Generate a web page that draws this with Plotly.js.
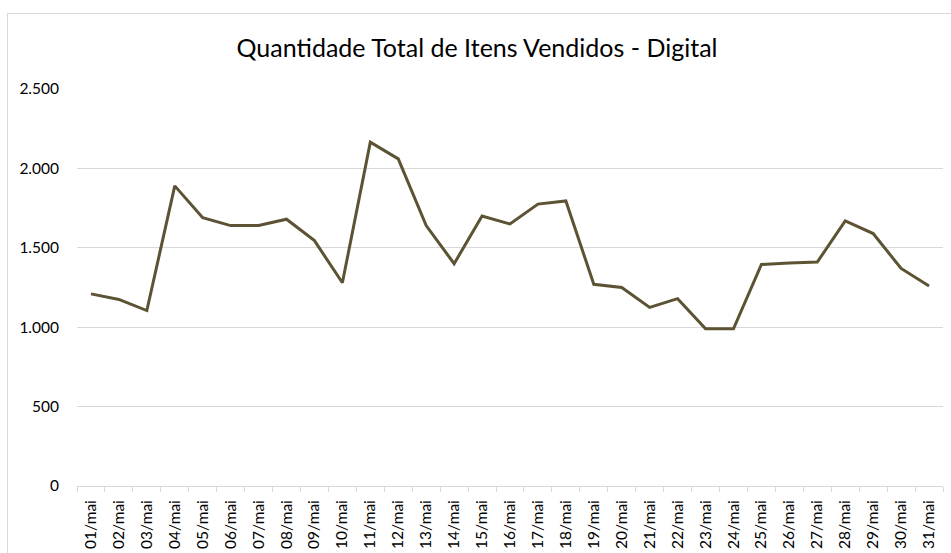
<!DOCTYPE html>
<html>
<head>
<meta charset="utf-8">
<script src="https://cdn.plot.ly/plotly-3.0.1.min.js"></script>
<style>
html,body{margin:0;padding:0;background:#fff;overflow:hidden;}
#chart{position:absolute;left:0;top:0;width:951px;height:553px;}
#frame{position:absolute;left:7px;top:13px;width:1100px;height:700px;border:1px solid #d9d9d9;pointer-events:none;}
</style>
</head>
<body>
<div id="chart"></div>
<div id="frame"></div>
<script>
const chartTitle = "Quantidade Total de Itens Vendidos - Digital";
const days = ["01/mai","02/mai","03/mai","04/mai","05/mai","06/mai","07/mai","08/mai","09/mai","10/mai",
  "11/mai","12/mai","13/mai","14/mai","15/mai","16/mai","17/mai","18/mai","19/mai","20/mai",
  "21/mai","22/mai","23/mai","24/mai","25/mai","26/mai","27/mai","28/mai","29/mai","30/mai","31/mai"];
const quantities = [1210,1175,1105,1890,1690,1640,1640,1680,1545,1280,
  2165,2060,1640,1400,1700,1650,1775,1795,1270,1250,
  1125,1180,990,990,1395,1405,1410,1670,1590,1370,1260];
const yTickValues = [0,500,1000,1500,2000,2500];
const yTickLabels = ["0","500","1.000","1.500","2.000","2.500"];

const W = 951, H = 553;
const fontFamily = "Lato, 'Open Sans', sans-serif";

Plotly.newPlot("chart", [{
  type: "scatter",
  mode: "lines",
  x: days,
  y: quantities,
  line: {color: "#5b5333", width: 3},
  hoverinfo: "x+y"
}], {
  width: W, height: H,
  margin: {l: 77, r: 8, t: 89, b: H - 486, pad: 0},
  paper_bgcolor: "#ffffff",
  plot_bgcolor: "#ffffff",
  showlegend: false,
  title: {
    text: chartTitle,
    font: {family: fontFamily, size: 25, color: "#000000"},
    xref: "container", x: 477 / W, xanchor: "center",
    yref: "container", y: 1 - 48 / H, yanchor: "middle"
  },
  xaxis: {
    type: "category",
    range: [-0.5, days.length - 0.5],
    tickangle: -90,
    tickson: "boundaries",
    ticks: "outside",
    ticklen: 5,
    tickcolor: "#d9d9d9",
    tickwidth: 1,
    showline: true,
    linecolor: "#d9d9d9",
    linewidth: 1,
    showgrid: false,
    zeroline: false,
    automargin: false,
    ticklabelstandoff: 7,
    tickfont: {family: fontFamily, size: 15.5, color: "#000000"}
  },
  yaxis: {
    range: [0, 2500],
    tickvals: yTickValues,
    ticktext: yTickLabels,
    showgrid: true,
    gridcolor: "#d9d9d9",
    gridwidth: 1,
    zeroline: false,
    showline: false,
    ticks: "",
    automargin: false,
    ticklabelstandoff: 17,
    tickfont: {family: fontFamily, size: 15.5, color: "#000000"}
  }
}, {displayModeBar: false, staticPlot: true});
</script>
</body>
</html>
